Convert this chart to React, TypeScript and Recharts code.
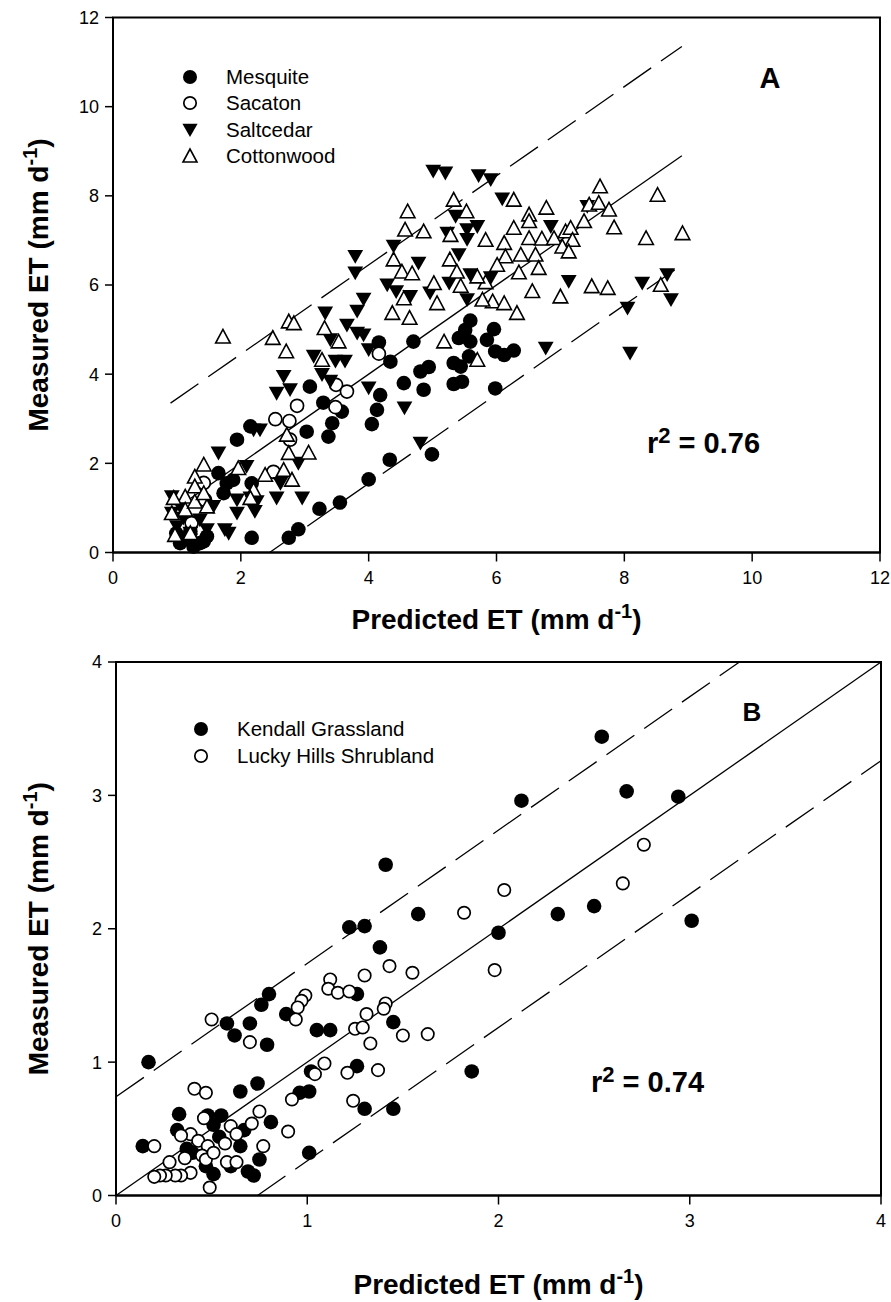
import {
  ScatterChart,
  Scatter,
  XAxis,
  YAxis,
  ReferenceLine,
  ReferenceArea,
  Legend,
} from "recharts";

const FONT = '"Liberation Sans", Arial, Helvetica, sans-serif';

type Pt = [number, number];
type Kind = "dot" | "ring" | "down" | "up";

// ---------- panel A ----------
const ticksA = [0, 2, 4, 6, 8, 10, 12];
const r2A = "0.76";

const mesquite: Pt[] = [
  [2.17, 0.33], [2.75, 0.33], [2.9, 0.52], [3.23, 0.98], [3.55, 1.12], [4.0, 1.64],
  [4.33, 2.08], [4.99, 2.2], [1.94, 2.53], [2.15, 2.83], [1.65, 1.78], [1.73, 1.33],
  [1.88, 1.63], [2.17, 1.55], [3.08, 3.72], [3.03, 2.71], [3.29, 3.36], [3.37, 2.6],
  [3.43, 2.9], [3.58, 3.16], [4.05, 2.88], [4.13, 3.2], [4.18, 3.53], [4.16, 4.71],
  [4.34, 4.28], [4.55, 3.8], [4.7, 4.73], [4.86, 3.65], [4.81, 4.06], [4.94, 4.16],
  [5.33, 4.25], [5.44, 4.17], [5.33, 3.78], [5.46, 3.83], [5.41, 4.81], [5.59, 5.2],
  [5.51, 4.99], [5.59, 4.73], [5.57, 4.4], [5.85, 4.77], [5.96, 5.01], [5.98, 4.51],
  [5.98, 3.68], [6.12, 4.43], [6.27, 4.53], [1.05, 0.21], [1.26, 0.13], [1.42, 0.25],
  [0.99, 0.43], [1.1, 0.3], [1.36, 0.21], [1.47, 0.36], [1.21, 0.47], [1.78, 1.55],
];

const sacaton: Pt[] = [
  [4.16, 4.46], [3.49, 3.76], [3.66, 3.61], [3.48, 3.26], [2.88, 3.29], [2.54, 2.99],
  [2.76, 2.95], [2.77, 2.53], [2.51, 1.81], [1.42, 1.56], [1.44, 1.18], [1.23, 0.66],
];

const saltcedar: Pt[] = [
  [5.01, 8.55], [5.2, 8.51], [5.72, 8.45], [5.91, 8.36], [6.09, 7.93], [5.36, 7.54],
  [5.7, 7.31], [5.23, 7.16], [5.54, 7.24], [5.54, 7.02], [5.41, 6.68], [4.39, 6.87],
  [4.78, 6.49], [3.79, 6.64], [3.79, 6.27], [5.59, 6.23], [5.91, 6.16], [7.42, 7.76],
  [6.85, 7.31], [4.29, 6.0], [4.43, 5.85], [5.26, 6.04], [4.96, 5.82], [4.65, 5.74],
  [3.92, 5.68], [5.54, 5.67], [7.13, 6.08], [8.28, 6.04], [8.67, 6.23], [8.73, 5.67],
  [8.05, 5.48], [8.09, 4.47], [6.77, 4.58], [3.82, 5.41], [3.66, 5.1], [3.82, 4.92],
  [3.92, 4.88], [3.32, 5.37], [3.4, 4.77], [3.14, 4.4], [3.48, 4.29], [3.63, 4.29],
  [4.0, 4.55], [2.67, 3.95], [2.56, 3.57], [2.77, 3.65], [3.27, 3.99], [3.4, 3.84],
  [4.0, 3.69], [4.56, 3.24], [4.81, 2.45], [2.3, 2.75], [2.2, 2.75], [1.65, 2.23],
  [2.09, 1.93], [2.9, 2.0], [2.62, 1.55], [2.56, 1.22], [2.96, 1.22], [1.94, 1.18],
  [1.94, 0.88], [2.22, 0.92], [1.75, 0.51], [1.81, 0.43], [2.25, 1.14], [1.57, 1.03],
  [1.36, 0.73], [1.1, 0.77], [0.92, 1.25], [0.92, 0.88], [1.0, 0.58], [1.21, 0.43],
  [1.47, 0.51], [1.05, 1.03], [1.21, 0.28], [2.15, 1.22],
];

const cottonwood: Pt[] = [
  [7.62, 8.21], [8.52, 8.02], [6.27, 7.91], [6.78, 7.73], [6.51, 7.58], [7.45, 7.8],
  [7.6, 7.84], [7.76, 7.69], [7.37, 7.43], [7.84, 7.29], [8.91, 7.16], [8.34, 7.05],
  [6.51, 7.43], [6.27, 7.28], [5.83, 7.01], [6.12, 6.94], [6.51, 7.05], [6.71, 7.04],
  [6.9, 7.05], [7.08, 7.2], [7.16, 7.28], [7.19, 7.01], [7.03, 6.86], [7.13, 6.75],
  [6.14, 6.64], [6.38, 6.68], [6.61, 6.68], [6.01, 6.45], [6.66, 6.38], [6.35, 6.28],
  [5.83, 6.06], [6.56, 5.86], [7.49, 5.97], [7.74, 5.93], [8.57, 6.0], [7.0, 5.74],
  [5.94, 5.63], [6.12, 5.59], [6.32, 5.37], [5.78, 5.67], [5.33, 7.91], [5.53, 7.65],
  [4.61, 7.65], [4.57, 7.24], [4.86, 7.2], [5.28, 7.12], [4.39, 6.57], [4.52, 6.3],
  [4.68, 6.26], [5.27, 6.57], [5.38, 6.3], [5.02, 6.04], [5.44, 5.98], [5.7, 6.19],
  [4.55, 5.7], [5.07, 5.59], [4.37, 5.37], [4.64, 5.26], [5.18, 4.73], [5.7, 4.32],
  [1.72, 4.84], [2.75, 5.18], [2.83, 5.14], [2.5, 4.81], [2.71, 4.51], [3.31, 5.03],
  [3.53, 4.73], [3.27, 4.32], [2.72, 2.64], [2.75, 2.23], [3.06, 2.24], [2.67, 1.85],
  [2.8, 1.63], [2.38, 1.74], [1.96, 1.89], [2.2, 1.4], [2.15, 1.22], [1.42, 1.97],
  [1.28, 1.7], [1.28, 1.48], [1.13, 1.25], [0.95, 1.22], [0.92, 0.88], [1.13, 0.96],
  [1.28, 1.14], [1.47, 1.03], [0.97, 0.39], [1.21, 0.43], [1.42, 1.33],
];

const fitA: Pt[] = [[0.9, 0.9], [8.9, 8.9]];
const upperA: Pt[] = [[0.9, 3.35], [8.9, 11.35]];
const lowerA: Pt[] = [[2.45, 0], [8.9, 6.45]];

// ---------- panel B ----------
const ticksB = [0, 1, 2, 3, 4];
const r2B = "0.74";

const kendall: Pt[] = [
  [1.22, 2.01], [1.3, 2.02], [1.38, 1.86], [1.26, 1.51], [0.8, 1.51], [0.76, 1.43],
  [0.89, 1.36], [0.58, 1.29], [0.7, 1.29], [0.62, 1.2], [0.79, 1.13], [1.05, 1.24],
  [1.12, 1.24], [1.45, 1.3], [0.17, 1.0], [1.02, 0.93], [1.26, 0.97], [1.86, 0.93],
  [0.74, 0.84], [0.65, 0.78], [0.96, 0.77], [1.01, 0.78], [1.3, 0.65], [1.45, 0.65],
  [0.33, 0.61], [0.32, 0.49], [0.81, 0.55], [1.01, 0.32], [0.14, 0.37], [0.75, 0.27],
  [0.51, 0.16], [0.72, 0.15], [0.69, 0.18], [1.41, 2.48], [1.58, 2.11], [2.54, 3.44],
  [2.12, 2.96], [2.67, 3.03], [2.94, 2.99], [2.0, 1.97], [2.31, 2.11], [2.5, 2.17],
  [3.01, 2.06], [0.48, 0.6], [0.55, 0.6], [0.51, 0.53], [0.54, 0.44], [0.37, 0.35],
  [0.4, 0.32], [0.67, 0.49], [0.65, 0.37], [0.6, 0.22], [0.47, 0.22],
];

const luckyHills: Pt[] = [
  [2.76, 2.63], [2.03, 2.29], [2.65, 2.34], [1.98, 1.69], [1.82, 2.12], [1.43, 1.72],
  [1.55, 1.67], [1.3, 1.65], [1.12, 1.62], [1.11, 1.55], [1.16, 1.52], [1.22, 1.53],
  [0.99, 1.5], [0.97, 1.46], [0.95, 1.41], [0.94, 1.32], [0.5, 1.32], [1.41, 1.44],
  [1.4, 1.4], [1.31, 1.36], [1.25, 1.25], [1.29, 1.26], [0.7, 1.15], [1.33, 1.14],
  [1.5, 1.2], [1.63, 1.21], [1.09, 0.99], [1.04, 0.91], [1.21, 0.92], [1.37, 0.94],
  [0.41, 0.8], [0.47, 0.77], [0.92, 0.72], [1.24, 0.71], [0.75, 0.63], [0.9, 0.48],
  [0.71, 0.54], [0.46, 0.58], [0.2, 0.37], [0.77, 0.37], [0.49, 0.06], [0.39, 0.46],
  [0.43, 0.41], [0.48, 0.37], [0.45, 0.3], [0.47, 0.27], [0.51, 0.32], [0.36, 0.28],
  [0.28, 0.25], [0.34, 0.45], [0.39, 0.17], [0.34, 0.15], [0.31, 0.15], [0.26, 0.15],
  [0.23, 0.15], [0.2, 0.14], [0.57, 0.39], [0.6, 0.52], [0.63, 0.46], [0.58, 0.25],
  [0.63, 0.25],
];

const fitB: Pt[] = [[0, 0], [4, 4]];
const upperB: Pt[] = [[0, 0.74], [3.26, 4]];
const lowerB: Pt[] = [[0.74, 0], [4, 3.26]];

const legendA: { label: string; kind: Kind }[] = [
  { label: "Mesquite", kind: "dot" },
  { label: "Sacaton", kind: "ring" },
  { label: "Saltcedar", kind: "down" },
  { label: "Cottonwood", kind: "up" },
];
const legendB: { label: string; kind: Kind }[] = [
  { label: "Kendall Grassland", kind: "dot" },
  { label: "Lucky Hills Shrubland", kind: "ring" },
];

const toXY = (pts: Pt[]) => pts.map(([x, y]) => ({ x, y }));
const seg = (pts: Pt[]) => pts.map(([x, y]) => ({ x, y }));

const marker = (kind: Kind, cx: number, cy: number, s = 7.3) => {
  switch (kind) {
    case "dot":
      return <circle cx={cx} cy={cy} r={s} fill="#000" />;
    case "ring":
      return <circle cx={cx} cy={cy} r={s - 0.8} fill="#fff" stroke="#000" strokeWidth={1.7} />;
    case "down":
      return (
        <path
          d={`M${cx - s - 0.6},${cy - s + 0.8}L${cx + s + 0.6},${cy - s + 0.8}L${cx},${cy + s}Z`}
          fill="#000"
        />
      );
    default:
      return (
        <path
          d={`M${cx - s},${cy + s - 1}L${cx + s},${cy + s - 1}L${cx},${cy - s}Z`}
          fill="#fff"
          stroke="#000"
          strokeWidth={1.6}
        />
      );
  }
};
const shapeOf = (kind: Kind, s?: number) => (p: any) => marker(kind, p.cx, p.cy, s);

const legendContent = (items: { label: string; kind: Kind }[], rowH: number) => () => (
  <div style={{ fontFamily: FONT, fontSize: 20.5, color: "#000" }}>
    {items.map((it) => (
      <div key={it.label} style={{ display: "flex", alignItems: "center", height: rowH }}>
        <svg width={18} height={18} style={{ overflow: "visible" }}>
          {marker(it.kind, 9, 9, 7)}
        </svg>
        <span style={{ marginLeft: 27, whiteSpace: "nowrap" }}>{it.label}</span>
      </div>
    ))}
  </div>
);

const xTitle = (dy: number) => (p: any) => {
  const vb = p.viewBox || { x: 0, y: 0, width: 0 };
  return (
    <text
      x={vb.x + vb.width / 2}
      y={vb.y + dy}
      textAnchor="middle"
      fontFamily={FONT}
      fontWeight="bold"
      fontSize={28}
      fill="#000"
    >
      Predicted ET (mm d<tspan dy={-11} fontSize={20}>-1</tspan>
      <tspan dy={11}>)</tspan>
    </text>
  );
};

const yTitle = (bx: number) => (p: any) => {
  const vb = p.viewBox || { x: 0, y: 0, height: 0 };
  const cy = vb.y + vb.height / 2;
  return (
    <text
      x={bx}
      y={cy}
      transform={`rotate(-90, ${bx}, ${cy})`}
      textAnchor="middle"
      fontFamily={FONT}
      fontWeight="bold"
      fontSize={28}
      fill="#000"
    >
      Measured ET (mm d<tspan dy={-11} fontSize={20}>-1</tspan>
      <tspan dy={11}>)</tspan>
    </text>
  );
};

const tickStyle = { fill: "#000", fontSize: 18, fontFamily: FONT };
const axisLine = { stroke: "#000", strokeWidth: 2 };
const tickLine = { stroke: "#000", strokeWidth: 1.5 };

const PanelA = () => (
  <ScatterChart width={891} height={650} margin={{ top: 17.5, right: 11, bottom: 0, left: 0 }}>
    <XAxis
      type="number"
      dataKey="x"
      domain={[0, 12]}
      ticks={ticksA}
      interval={0}
      height={97.5}
      tickSize={9}
      tickMargin={10}
      tick={tickStyle}
      axisLine={axisLine}
      tickLine={tickLine}
      label={xTitle(76.5)}
    />
    <YAxis
      type="number"
      dataKey="y"
      domain={[0, 12]}
      ticks={ticksA}
      interval={0}
      width={113}
      tickSize={8}
      tickMargin={6}
      tick={tickStyle}
      axisLine={axisLine}
      tickLine={tickLine}
      label={yTitle(48)}
    />
    <ReferenceArea x1={0} x2={12} y1={0} y2={12} fill="none" fillOpacity={0} stroke="#000" strokeWidth={2} />
    <ReferenceLine segment={seg(upperA)} stroke="#000" strokeWidth={1.3} strokeDasharray="34 12" />
    <ReferenceLine segment={seg(fitA)} stroke="#000" strokeWidth={1.3} />
    <ReferenceLine segment={seg(lowerA)} stroke="#000" strokeWidth={1.3} strokeDasharray="34 12" />
    <Scatter name="Mesquite" data={toXY(mesquite)} shape={shapeOf("dot")} isAnimationActive={false} />
    <Scatter name="Sacaton" data={toXY(sacaton)} shape={shapeOf("ring")} isAnimationActive={false} />
    <Scatter name="Saltcedar" data={toXY(saltcedar)} shape={shapeOf("down")} isAnimationActive={false} />
    <Scatter name="Cottonwood" data={toXY(cottonwood)} shape={shapeOf("up")} isAnimationActive={false} />
    <Legend
      layout="vertical"
      verticalAlign="middle"
      align="center"
      content={legendContent(legendA, 26.5)}
      wrapperStyle={{ top: 63.5, left: 181, width: "auto" }}
    />
  </ScatterChart>
);

const PanelB = () => (
  <ScatterChart width={891} height={652} margin={{ top: 12, right: 10, bottom: 0, left: 0 }}>
    <XAxis
      type="number"
      dataKey="x"
      domain={[0, 4]}
      ticks={ticksB}
      interval={0}
      height={106.5}
      tickSize={9}
      tickMargin={10}
      tick={tickStyle}
      axisLine={axisLine}
      tickLine={tickLine}
      label={xTitle(98.5)}
    />
    <YAxis
      type="number"
      dataKey="y"
      domain={[0, 4]}
      ticks={ticksB}
      interval={0}
      width={116}
      tickSize={8}
      tickMargin={6}
      tick={tickStyle}
      axisLine={axisLine}
      tickLine={tickLine}
      label={yTitle(48)}
    />
    <ReferenceArea x1={0} x2={4} y1={0} y2={4} fill="none" fillOpacity={0} stroke="#000" strokeWidth={2} />
    <ReferenceLine segment={seg(upperB)} stroke="#000" strokeWidth={1.3} strokeDasharray="34 12" />
    <ReferenceLine segment={seg(fitB)} stroke="#000" strokeWidth={1.3} />
    <ReferenceLine segment={seg(lowerB)} stroke="#000" strokeWidth={1.3} strokeDasharray="34 12" />
    <Scatter name="Kendall Grassland" data={toXY(kendall)} shape={shapeOf("dot")} isAnimationActive={false} />
    <Scatter name="Lucky Hills Shrubland" data={toXY(luckyHills)} shape={shapeOf("ring", 7)} isAnimationActive={false} />
    <Legend
      layout="vertical"
      verticalAlign="middle"
      align="center"
      content={legendContent(legendB, 26.7)}
      wrapperStyle={{ top: 66, left: 192, width: "auto" }}
    />
  </ScatterChart>
);

const bold = { fontFamily: FONT, fontWeight: "bold" as const, fill: "#000" };

const Annotations = () => (
  <svg
    width={891}
    height={1302}
    style={{ position: "absolute", top: 0, left: 0, pointerEvents: "none" }}
  >
    <text x={770} y={88} textAnchor="middle" fontSize={29} {...bold}>A</text>
    <text x={647} y={453} fontSize={29} {...bold}>
      r<tspan dy={-10} fontSize={22}>2</tspan>
      <tspan dy={10}> = {r2A}</tspan>
    </text>
    <text x={752} y={721} textAnchor="middle" fontSize={26} {...bold}>B</text>
    <text x={591} y={1092} fontSize={29} {...bold}>
      r<tspan dy={-10} fontSize={22}>2</tspan>
      <tspan dy={10}> = {r2B}</tspan>
    </text>
  </svg>
);

export default function App() {
  return (
    <div style={{ position: "absolute", top: 0, left: 0, width: 891, height: 1302, background: "#fff" }}>
      <div style={{ position: "absolute", top: 0, left: 0 }}>
        <PanelA />
      </div>
      <div style={{ position: "absolute", top: 650, left: 0 }}>
        <PanelB />
      </div>
      <Annotations />
    </div>
  );
}
